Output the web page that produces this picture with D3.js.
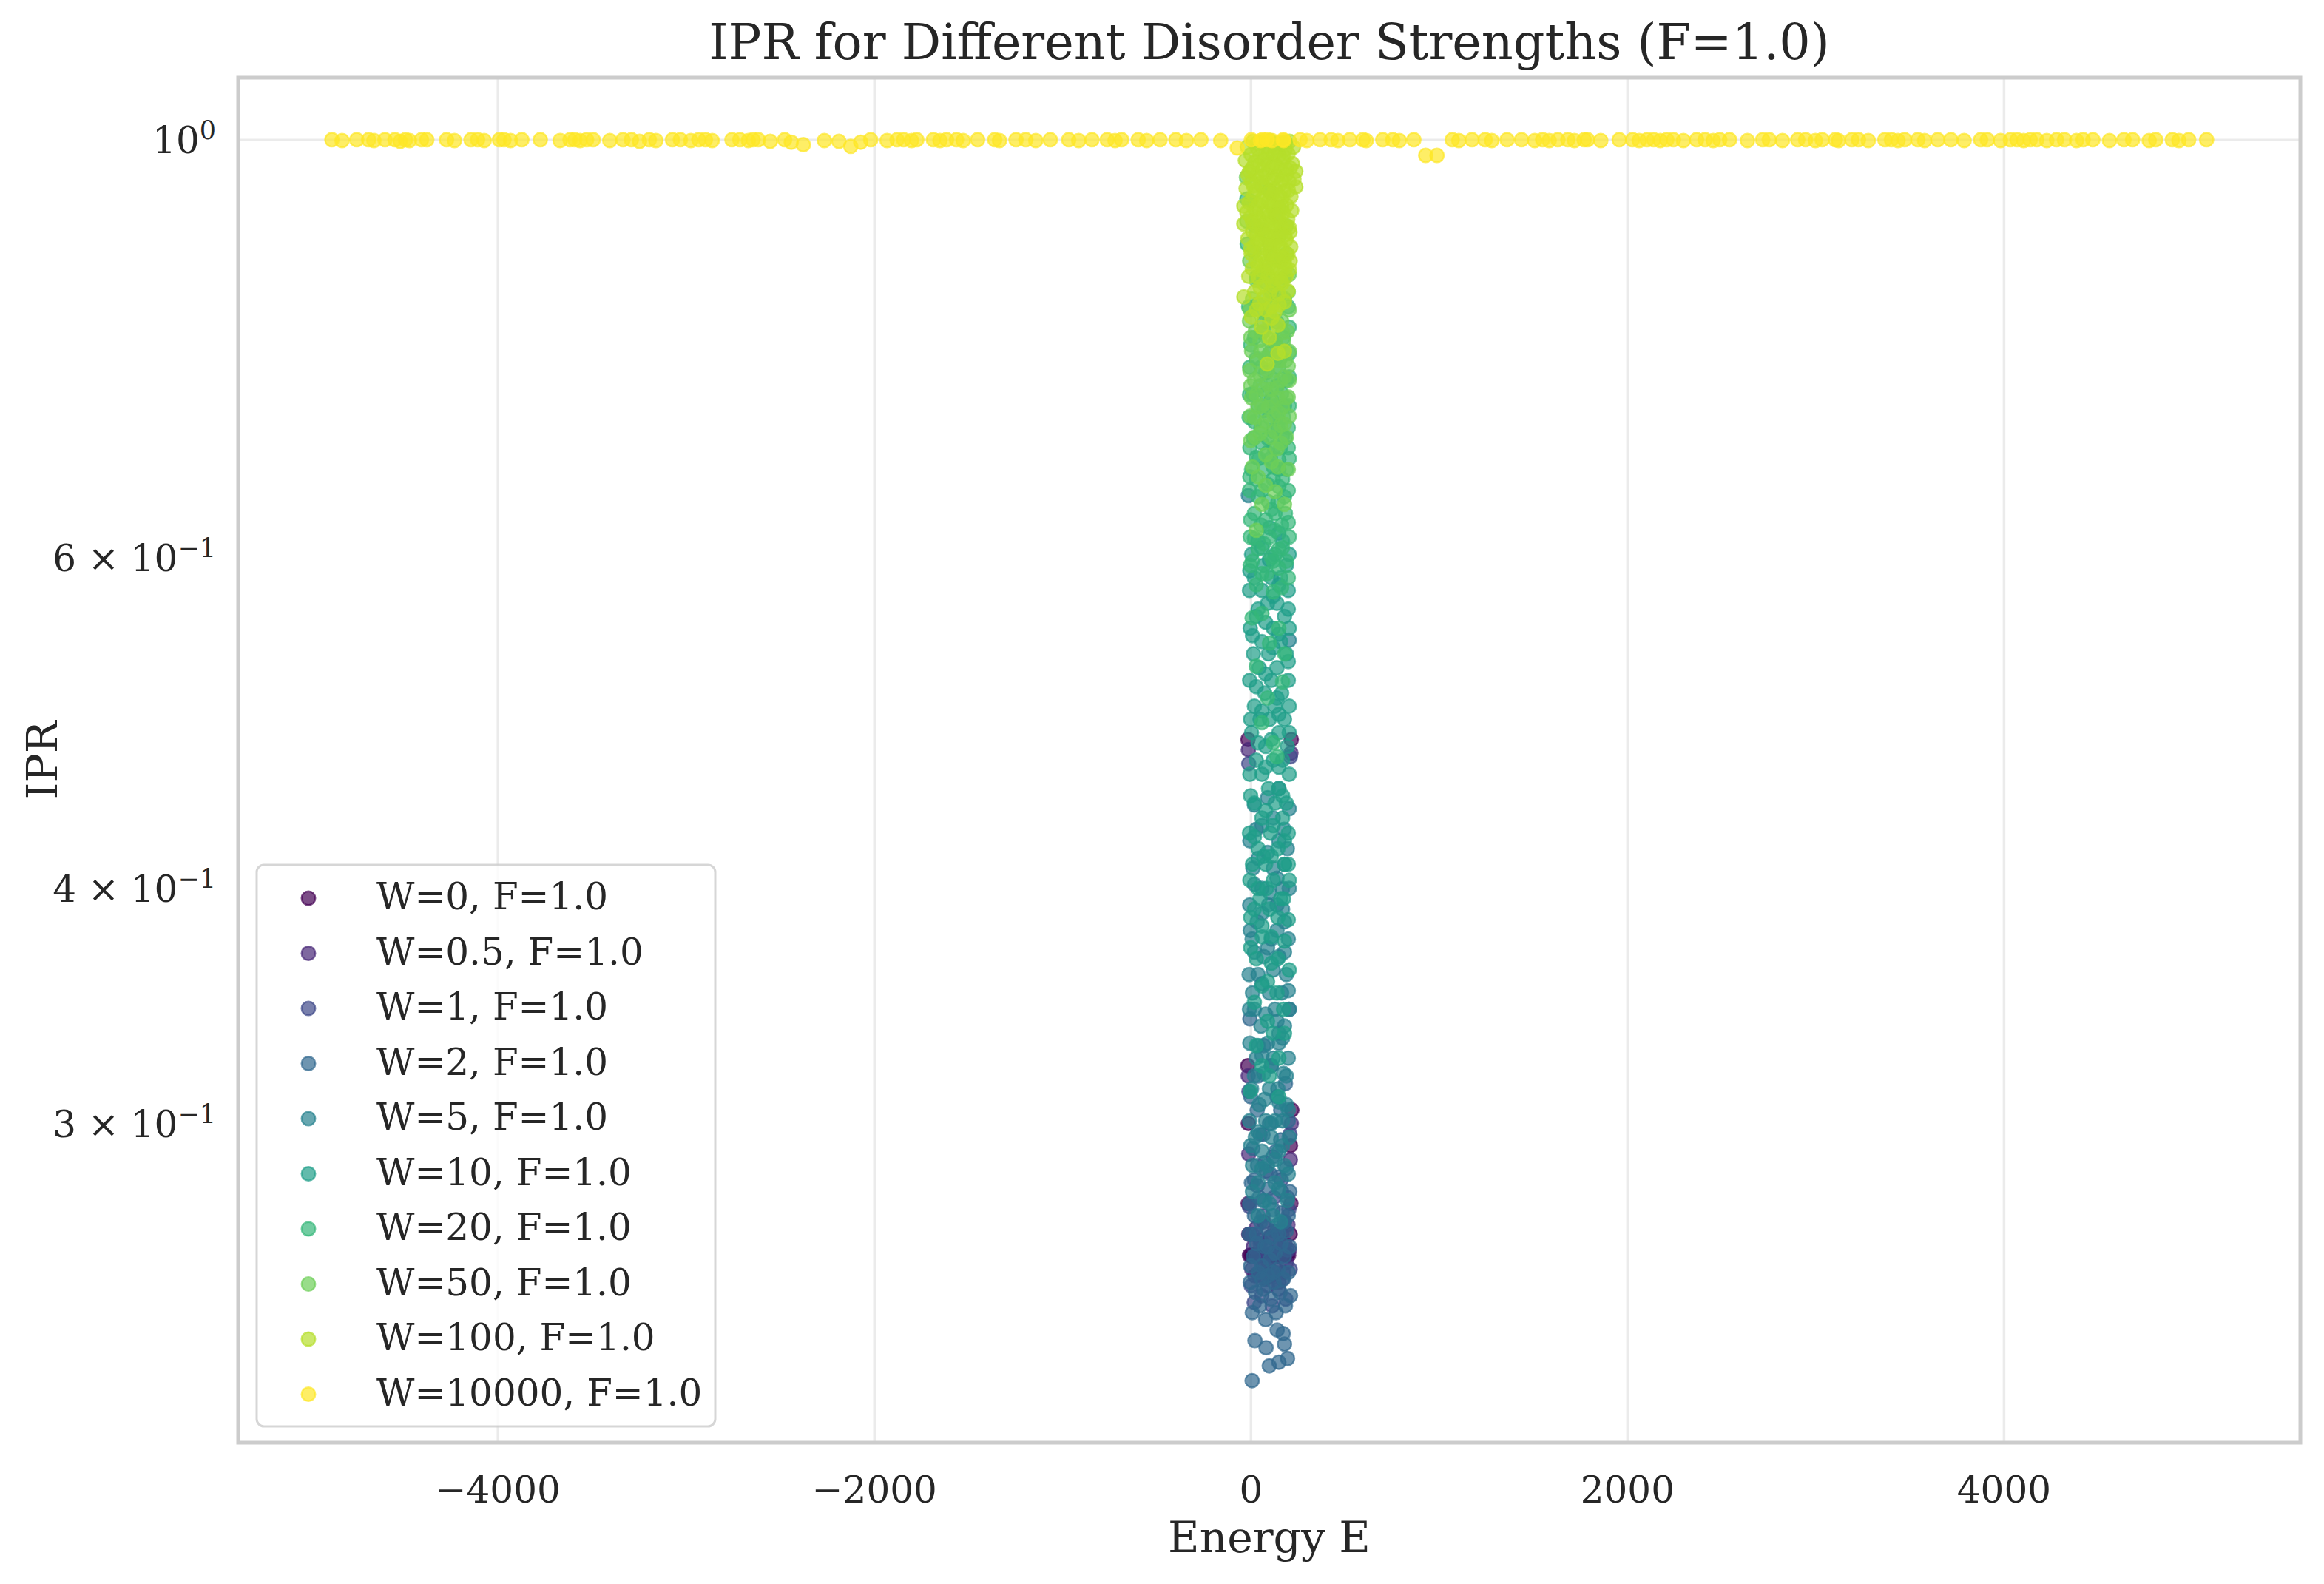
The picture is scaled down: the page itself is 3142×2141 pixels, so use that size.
<!DOCTYPE html>
<html>
<head>
<meta charset="utf-8">
<script src="https://cdn.jsdelivr.net/npm/d3@7"></script>
<style>
  body { margin: 0; background: #fff; }
  text { font-family: "DejaVu Serif", serif; fill: #262626; }
</style>
</head>
<body>
<div id="chart"></div>
<script>
// disorder strengths, one series per W (F fixed at 1.0)
const W_LEVELS = ["0", "0.5", "1", "2", "5", "10", "20", "50", "100", "10000"]

// [energy E, IPR]
const W0 = [
  [-6,0.2553],[2,0.2553],[10,0.2553],[18,0.2553],[26,0.2553],[34,0.2553],[42,0.2553],[50,0.2553],[58,0.2553],
  [66,0.2553],[74,0.2553],[82,0.2553],[90,0.2553],[98,0.2553],[106,0.2553],[114,0.2553],[122,0.2553],[130,0.2553],
  [138,0.2553],[146,0.2553],[154,0.2553],[162,0.2553],[170,0.2553],[178,0.2553],[186,0.2553],[194,0.2553],[202,0.2553],
  [-14,0.480],[216,0.480],[-15,0.322],[-12,0.300],[212,0.292],[219,0.305],[214,0.272],[-13,0.272],[-10,0.262],[210,0.262]
]
const W05 = [
  [-4,0.262],[6,0.251],[14,0.258],[22,0.249],[30,0.264],[38,0.255],[46,0.250],[54,0.260],[62,0.253],[70,0.266],
  [78,0.248],[86,0.257],[94,0.252],[102,0.261],[110,0.249],[118,0.256],[126,0.263],[134,0.251],[142,0.258],[150,0.247],
  [158,0.255],[166,0.262],[174,0.250],[182,0.259],[190,0.253],[198,0.265],[206,0.257],
  [-12,0.474],[214,0.472],[-10,0.289],[211,0.287],[-13,0.318],[216,0.300]
]
const W1 = [
  [-6,0.271],[3,0.246],[11,0.262],[19,0.241],[27,0.255],[35,0.278],[43,0.249],[51,0.259],[59,0.243],[67,0.268],
  [75,0.252],[83,0.283],[91,0.246],[99,0.261],[107,0.256],[115,0.240],[123,0.274],[131,0.250],[139,0.263],[147,0.245],
  [155,0.258],[163,0.280],[171,0.248],[179,0.266],[187,0.242],[195,0.257],[203,0.270],[210,0.251],
  [-10,0.466],[211,0.470],[-9,0.312],[209,0.296]
]
const W2 = [
  [-8,0.262],[-2,0.247],[4,0.279],[9,0.238],[15,0.255],[20,0.268],[26,0.244],[31,0.259],[37,0.285],[42,0.250],
  [48,0.240],[53,0.266],[58,0.252],[64,0.273],[69,0.245],[75,0.258],[80,0.236],[86,0.264],[91,0.249],[97,0.277],
  [102,0.254],[108,0.242],[113,0.261],[119,0.270],[124,0.247],[130,0.256],[135,0.238],[141,0.265],[146,0.251],[152,0.281],
  [157,0.244],[163,0.259],[168,0.269],[174,0.248],[179,0.255],[185,0.240],[190,0.263],[196,0.274],[201,0.250],[207,0.258],
  [212,0.243],[-5,0.272],[208,0.276],[12,0.291],[66,0.296],[118,0.288],[160,0.294],[200,0.301],[35,0.305],[140,0.310],
  [-4,0.341],[205,0.345],
  [30,0.262],[90,0.258],[150,0.262],[60,0.248],[120,0.250],[180,0.266],[0,0.252],[200,0.268],[45,0.274],[105,0.282],
  [165,0.276],[20,0.280],[75,0.286],[135,0.290],[190,0.284],[50,0.296],[100,0.300],[160,0.305],[0,0.310],[110,0.322],
  [185,0.315],[40,0.318],[70,0.330],[150,0.335],
  [8,0.219],[23,0.230],[82,0.228],[99,0.223],[150,0.224],[196,0.225],[141,0.233],[173,0.232],[180,0.229]
]
const W5 = [
  [150,0.452],[205,0.441],[178,0.430],[30,0.430],[195,0.420],[12,0.410],[120,0.410],[60,0.400],[170,0.400],[205,0.400],
  [-5,0.392],[95,0.392],[140,0.392],[35,0.384],[180,0.384],[8,0.376],[110,0.376],[200,0.376],[70,0.368],[150,0.368],
  [-8,0.360],[40,0.360],[190,0.360],[100,0.352],[165,0.352],[205,0.345],[20,0.345],[130,0.345],[55,0.338],[180,0.338],
  [-4,0.331],[90,0.331],[150,0.331],[30,0.325],[120,0.325],[200,0.325],[70,0.319],[175,0.319],[5,0.313],[100,0.313],
  [145,0.313],[45,0.307],[190,0.307],[-6,0.301],[80,0.301],[130,0.301],[170,0.301],[25,0.295],[110,0.295],[205,0.295],
  [60,0.290],[150,0.290],[10,0.285],[90,0.285],[180,0.285],[40,0.279],[130,0.279],[75,0.273],[195,0.273],[120,0.268],
  [90,0.447],[20,0.443],[120,0.436],[60,0.432],[-4,0.424],[150,0.424],[90,0.418],[40,0.415],[180,0.412],[140,0.405],
  [20,0.402],[100,0.398],[60,0.388],[170,0.390],[140,0.380],[-2,0.380],[90,0.372],[20,0.370],[180,0.370],[120,0.362],
  [60,0.356],[10,0.352],[200,0.353],[140,0.340],[80,0.343],[-6,0.345],[170,0.333],[40,0.330],[60,0.326],[110,0.322],
  [190,0.318],[20,0.318],[150,0.308],[75,0.309],[200,0.305],[110,0.300],[40,0.297],[170,0.292],[0,0.292],[130,0.287],
  [60,0.284],[200,0.282],[150,0.277],[10,0.276],[100,0.272],[40,0.268],[160,0.266],
  [205,0.542],[-12,0.647]
]
const W10 = [
  [100,0.622],[40,0.612],[170,0.612],[5,0.602],[130,0.602],[205,0.602],[70,0.594],[190,0.594],[20,0.585],[110,0.585],
  [160,0.585],[-6,0.576],[60,0.576],[200,0.576],[90,0.567],[140,0.567],[30,0.558],[180,0.558],[-2,0.550],[120,0.550],
  [205,0.550],[60,0.541],[160,0.541],[15,0.533],[95,0.533],[190,0.533],[45,0.524],[140,0.524],[-5,0.516],[110,0.516],
  [200,0.516],[75,0.508],[165,0.508],[20,0.500],[130,0.500],[205,0.500],[50,0.492],[100,0.492],[180,0.492],[5,0.484],
  [150,0.484],[80,0.476],[195,0.476],[30,0.468],[120,0.468],[170,0.468],[-4,0.460],[60,0.460],[205,0.460],[95,0.452],
  [150,0.452],[20,0.444],[130,0.444],[190,0.444],[60,0.436],[170,0.436],[-6,0.428],[105,0.428],[200,0.428],[40,0.420],
  [145,0.420],[10,0.412],[80,0.412],[180,0.412],[120,0.404],[205,0.404],[50,0.395],[160,0.395],[0,0.386],[145,0.386],
  [62,0.377],[110,0.377],[145,0.367],[30,0.367],[90,0.357],[175,0.345],[120,0.335],[60,0.322],[150,0.310],
  [150,0.618],[60,0.607],[100,0.598],[-4,0.590],[150,0.580],[120,0.572],[40,0.563],[200,0.563],[80,0.554],[150,0.546],
  [10,0.545],[120,0.537],[200,0.528],[80,0.520],[30,0.512],[140,0.505],[60,0.497],[150,0.495],[0,0.492],[110,0.480],
  [40,0.478],[205,0.484],[80,0.464],[150,0.464],[0,0.448],[170,0.448],[80,0.440],[120,0.432],[20,0.426],[180,0.424],
  [70,0.416],[110,0.416],[200,0.412],[-4,0.404],[40,0.400],[85,0.400],[175,0.395],[20,0.390],[100,0.390],[200,0.385],
  [60,0.382],[180,0.375],[0,0.372],[110,0.365],[205,0.362],[60,0.355],[140,0.352],[20,0.348],[90,0.340],[180,0.335],
  [30,0.330],[150,0.325],[100,0.318],[-2,0.312]
]
const W20 = [
  [30,0.845],[180,0.845],[110,0.830],[-10,0.815],[200,0.815],[70,0.800],[140,0.800],[20,0.785],[175,0.785],[100,0.770],
  [205,0.770],[-5,0.757],[55,0.757],[150,0.757],[120,0.745],[190,0.745],[10,0.733],[80,0.733],[165,0.733],[40,0.722],
  [130,0.722],[205,0.722],[-8,0.712],[100,0.712],[175,0.712],[55,0.703],[145,0.703],[200,0.703],[15,0.694],[90,0.694],
  [185,0.694],[-4,0.686],[125,0.686],[160,0.686],[45,0.677],[105,0.677],[205,0.677],[5,0.668],[75,0.668],[150,0.668],
  [190,0.668],[30,0.660],[120,0.660],[170,0.660],[-6,0.651],[60,0.651],[200,0.651],[95,0.642],[145,0.642],[20,0.633],
  [130,0.633],[185,0.633],[55,0.624],[165,0.624],[-2,0.615],[100,0.615],[205,0.615],[40,0.606],[150,0.606],[10,0.597],
  [120,0.597],[190,0.597],[87,0.588],[60,0.588],[165,0.578],[8,0.557],[181,0.533],[90,0.505],[140,0.470],
  [80,0.840],[150,0.826],[40,0.818],[100,0.808],[205,0.795],[60,0.790],[130,0.780],[0,0.778],[160,0.766],[30,0.765],
  [80,0.752],[205,0.748],[140,0.740],[50,0.740],[-6,0.732],[110,0.728],[180,0.722],[70,0.718],[140,0.712],[20,0.708],
  [120,0.700],[170,0.696],[60,0.690],[200,0.686],[90,0.682],[30,0.678],[150,0.676],[120,0.670],[-4,0.662],[90,0.656],
  [150,0.654],[40,0.646],[180,0.646],[110,0.636],[0,0.628],[80,0.628],[200,0.626],[130,0.620],[20,0.614],[70,0.610],
  [170,0.607],[110,0.600],[-2,0.594],[150,0.592],[30,0.580],[120,0.575],[200,0.585],[60,0.560],[150,0.550],[100,0.540],
  [30,0.525],[170,0.515],[60,0.490],[120,0.478],
  [-20,0.930],[-18,0.880]
]
const W50 = [
  [60,0.945],[150,0.920],[20,0.900],[190,0.900],[100,0.880],[-5,0.862],[160,0.862],[60,0.848],[205,0.848],[120,0.835],
  [10,0.823],[80,0.823],[180,0.823],[40,0.812],[140,0.812],[205,0.812],[-6,0.801],[100,0.801],[165,0.801],[25,0.791],
  [70,0.791],[195,0.791],[130,0.781],[175,0.781],[5,0.772],[55,0.772],[110,0.772],[205,0.772],[35,0.763],[150,0.763],
  [185,0.763],[-4,0.754],[90,0.754],[125,0.754],[20,0.745],[160,0.745],[205,0.745],[65,0.737],[110,0.737],[5,0.729],
  [145,0.729],[190,0.729],[40,0.721],[95,0.721],[170,0.721],[-2,0.713],[125,0.713],[205,0.713],[60,0.705],[160,0.705],
  [25,0.695],[105,0.695],[190,0.695],[140,0.685],[145,0.670],[10,0.670],[80,0.655],[180,0.640],[30,0.620],
  [100,0.940],[0,0.928],[130,0.912],[60,0.896],[150,0.888],[20,0.872],[110,0.866],[190,0.870],[80,0.852],[30,0.842],
  [150,0.840],[200,0.830],[110,0.820],[60,0.810],[-4,0.812],[130,0.795],[170,0.790],[50,0.782],[90,0.784],[0,0.785],
  [150,0.774],[80,0.766],[200,0.758],[120,0.764],[50,0.750],[180,0.748],[0,0.740],[90,0.742],[140,0.738],[30,0.732],
  [110,0.726],[200,0.730],[60,0.722],[150,0.716],[20,0.712],[80,0.708],[180,0.706],[130,0.700],[50,0.698],[0,0.692],
  [160,0.690],[80,0.680],[110,0.674],[40,0.662],[200,0.668],[130,0.650],[60,0.640],
  [-22,0.955],[-20,0.905]
]
const W100 = [
  [12,0.998],[58,0.997],[104,0.999],[163,0.996],[207,0.998],[-18,0.991],[37,0.989],[88,0.992],[131,0.990],[183,0.988],
  [228,0.991],[2,0.982],[49,0.980],[97,0.984],[152,0.981],[199,0.983],[-28,0.975],[23,0.973],[73,0.976],[122,0.972],
  [171,0.975],[223,0.971],[9,0.966],[63,0.964],[113,0.967],[158,0.963],[211,0.966],[240,0.962],[-14,0.958],[33,0.957],
  [82,0.959],[138,0.956],[188,0.958],[6,0.950],[52,0.948],[107,0.951],[156,0.947],[204,0.950],[240,0.944],[-24,0.942],
  [28,0.940],[79,0.943],[128,0.941],[178,0.939],[17,0.934],[66,0.932],[116,0.935],[167,0.931],[214,0.933],[-8,0.926],
  [42,0.924],[92,0.927],[141,0.925],[191,0.923],[-36,0.922],[22,0.918],[71,0.916],[118,0.919],[172,0.915],[218,0.917],
  [1,0.910],[47,0.908],[99,0.911],[148,0.909],[197,0.907],[-36,0.902],[31,0.900],[83,0.903],[129,0.899],[181,0.901],
  [11,0.894],[61,0.892],[109,0.895],[161,0.891],[209,0.893],[-15,0.886],[39,0.884],[91,0.887],[139,0.883],[189,0.885],
  [19,0.878],[69,0.876],[121,0.879],[169,0.875],[213,0.877],[3,0.870],[51,0.868],[102,0.871],[149,0.867],[198,0.869],
  [28,0.862],[81,0.860],[132,0.863],[179,0.861],[9,0.854],[62,0.852],[111,0.855],[158,0.851],[206,0.853],[-10,0.846],
  [41,0.845],[93,0.847],[142,0.844],[188,0.846],[72,0.838],[119,0.836],[168,0.839],[21,0.830],[101,0.829],[199,0.831],
  [-36,0.825],[48,0.818],[151,0.817],[82,0.812],[128,0.810],[4,0.805],[112,0.804],[145,0.797],[58,0.795],[100,0.785],
  [180,0.772],[145,0.770],[88,0.760],
  [35,0.996],[135,0.995],[185,0.997],[80,0.985],[125,0.983],[175,0.979],[45,0.969],[95,0.970],[140,0.968],[190,0.965],
  [-5,0.962],[60,0.955],[120,0.953],[170,0.952],[230,0.953],[15,0.945],[100,0.938],[150,0.935],[200,0.940],[60,0.928],
  [110,0.923],[165,0.921],[30,0.914],[90,0.913],[140,0.912],[-20,0.915],[10,0.905],[60,0.899],[110,0.902],[160,0.900],
  [205,0.898],[30,0.890],[80,0.890],[130,0.888],[180,0.890],[50,0.882],[100,0.880],[150,0.878],[0,0.875],[75,0.866],
  [125,0.865],[170,0.866],[210,0.862],[40,0.857],[90,0.856],[135,0.851],[185,0.855],[110,0.842],[160,0.842],[50,0.835],
  [150,0.828],[70,0.824],[180,0.820],[110,0.815],[30,0.812]
]
const W10000 = [
  [-4880,1.0],[-4826,0.999],[-4748,1.0],[-4685,1.0],[-4657,0.999],[-4598,1.0],[-4545,1.0],[-4517,0.998],[-4489,1.0],
  [-4468,0.999],[-4404,1.0],[-4376,1.0],[-4271,1.0],[-4229,0.999],[-4141,1.0],[-4106,1.0],[-4071,0.999],[-3990,1.0],
  [-3966,1.0],[-3931,0.999],[-3871,1.0],[-3773,1.0],[-3668,0.999],[-3615,1.0],[-3590,1.0],[-3562,0.999],[-3527,1.0],
  [-3492,1.0],[-3404,0.999],[-3334,1.0],[-3289,1.0],[-3246,0.998],[-3194,1.0],[-3159,0.999],[-3071,1.0],[-3029,1.0],
  [-2973,0.999],[-2931,1.0],[-2896,1.0],[-2860,0.999],[-2755,1.0],[-2713,1.0],[-2668,0.999],[-2643,1.0],[-2615,1.0],
  [-2552,0.998],[-2475,1.0],[-2440,0.997],[-2376,0.994],[-2264,0.999],[-2187,0.998],[-2124,0.992],[-2071,0.997],
  [-2018,1.0],[-1931,0.999],[-1878,1.0],[-1843,1.0],[-1801,0.999],[-1773,1.0],[-1685,1.0],[-1650,0.999],[-1615,1.0],
  [-1562,1.0],[-1527,0.999],[-1450,1.0],[-1359,1.0],[-1334,0.999],[-1246,1.0],[-1194,1.0],[-1141,0.999],[-1064,1.0],
  [-966,1.0],[-913,0.999],[-843,1.0],[-762,1.0],[-720,0.999],[-685,1.0],[-597,1.0],[-552,0.999],[-481,1.0],[-397,1.0],
  [-341,0.999],[-264,1.0],[-159,0.999],[-71,0.990],
  [4,1.0],[53,0.999],[63,1.0],[88,1.0],[114,0.999],[173,1.0],[176,0.999],[263,1.0],[299,0.999],[369,1.0],[428,1.0],
  [464,0.999],[527,1.0],[597,1.0],[614,0.999],[702,1.0],[755,1.0],[790,0.999],[867,1.0],[930,0.981],[990,0.981],
  [1071,1.0],[1106,0.999],[1176,1.0],[1246,1.0],[1281,0.999],[1362,1.0],[1439,1.0],[1509,0.999],[1551,1.0],[1586,0.999],
  [1632,1.0],[1685,1.0],[1720,0.999],[1772,1.0],[1790,1.0],[1860,0.999],[1958,1.0],[2029,1.0],[2064,0.999],[2106,1.0],
  [2141,1.0],[2176,0.999],[2211,1.0],[2246,1.0],[2299,0.999],[2369,1.0],[2414,1.0],[2457,0.999],[2492,1.0],[2544,1.0],
  [2639,0.999],[2720,1.0],[2755,1.0],[2825,0.999],[2906,1.0],[2948,1.0],[3000,0.999],[3036,1.0],[3106,1.0],[3123,0.999],
  [3194,1.0],[3229,1.0],[3281,0.999],[3369,1.0],[3404,1.0],[3439,0.999],[3474,1.0],[3544,1.0],[3580,0.999],[3650,1.0],
  [3720,1.0],[3790,0.999],[3878,1.0],[3913,1.0],[3983,0.999],[4036,1.0],[4071,1.0],[4106,0.999],[4141,1.0],[4176,1.0],
  [4229,0.999],[4281,1.0],[4323,1.0],[4387,0.999],[4422,1.0],[4474,1.0],[4562,0.999],[4639,1.0],[4685,1.0],[4773,0.999],
  [4808,1.0],[4896,1.0],[4931,0.999],[4983,1.0],[5078,1.0]
]

const SERIES = [W0, W05, W1, W2, W5, W10, W20, W50, W100, W10000]

const X_TICKS = [-4000, -2000, 0, 2000, 4000]
const Y_TICKS = [0.3, 0.4, 0.6, 1]
const Y_TICK_MANT = ["3", "4", "6", ""]
const Y_TICK_EXP = ["\u22121", "\u22121", "\u22121", "0"]

const TOTAL_W = 3142
const TOTAL_H = 2141
const MARGIN = {TOP: 105, BOTTOM: 191, LEFT: 322, RIGHT: 32}
const WIDTH = TOTAL_W - MARGIN.LEFT - MARGIN.RIGHT
const HEIGHT = TOTAL_H - MARGIN.TOP - MARGIN.BOTTOM

const svg = d3.select("#chart")
  .append("svg")
    .attr("width", TOTAL_W)
    .attr("height", TOTAL_H)

const g = svg.append("g")
  .attr("transform", `translate(${MARGIN.LEFT}, ${MARGIN.TOP})`)

// scales with matplotlib-like 5% padding
const all = SERIES.flat()
const [xMin, xMax] = d3.extent(all, d => d[0])
const xPad = (xMax - xMin) * 0.05
const x = d3.scaleLinear()
  .domain([xMin - xPad, xMax + xPad])
  .range([0, WIDTH])

const [lyMin, lyMax] = d3.extent(all, d => Math.log10(d[1]))
const lyPad = (lyMax - lyMin) * 0.05
const y = d3.scaleLog()
  .domain([Math.pow(10, lyMin - lyPad), Math.pow(10, lyMax + lyPad)])
  .range([HEIGHT, 0])

const color = i => d3.interpolateViridis(i / (W_LEVELS.length - 1))

// grid
const gridX = g.append("g")
  .call(d3.axisBottom(x).tickValues(X_TICKS).tickSize(HEIGHT).tickFormat(""))
gridX.select(".domain").remove()
gridX.selectAll("line").attr("stroke", "#ebebeb").attr("stroke-width", 3.5)

const gridY = g.append("g")
  .call(d3.axisLeft(y).tickValues([1]).tickSize(-WIDTH).tickFormat(""))
gridY.select(".domain").remove()
gridY.selectAll("line").attr("stroke", "#ebebeb").attr("stroke-width", 3.5)

// points
SERIES.forEach((series, i) => {
  g.append("g")
    .selectAll("circle")
    .data(series)
    .join("circle")
      .attr("cx", d => x(d[0]))
      .attr("cy", d => y(d[1]))
      .attr("r", 9.3)
      .attr("fill", color(i))
      .attr("fill-opacity", 0.7)
      .attr("stroke", color(i))
      .attr("stroke-opacity", 0.7)
      .attr("stroke-width", 2.4)
})

// frame
g.append("rect")
  .attr("width", WIDTH)
  .attr("height", HEIGHT)
  .attr("fill", "none")
  .attr("stroke", "#cccccc")
  .attr("stroke-width", 5)

// x axis
const xAxisGroup = g.append("g")
  .attr("transform", `translate(0, ${HEIGHT})`)
  .call(d3.axisBottom(x).tickValues(X_TICKS).tickSize(0).tickPadding(45).tickFormat(d3.format("d")))
xAxisGroup.select(".domain").remove()
xAxisGroup.selectAll("text")
  .attr("font-size", "50px")
  .attr("font-family", "DejaVu Serif")
  .attr("fill", "#262626")

// y axis with mathtext-like labels
const yAxisGroup = g.append("g")
  .call(d3.axisLeft(y).tickValues(Y_TICKS).tickSize(0).tickPadding(30).tickFormat(""))
yAxisGroup.select(".domain").remove()
yAxisGroup.selectAll("text")
  .attr("font-size", "50px")
  .attr("font-family", "DejaVu Serif")
  .attr("fill", "#262626")
  .attr("dy", "0.36em")
  .each(function(d, i) {
    const t = d3.select(this)
    t.append("tspan").text(Y_TICK_MANT[i] ? `${Y_TICK_MANT[i]} \u00d7 10` : "10")
    t.append("tspan")
      .attr("font-size", "35px")
      .attr("dy", "-19")
      .text(Y_TICK_EXP[i])
  })

// labels
svg.append("text")
  .attr("x", MARGIN.LEFT + WIDTH / 2)
  .attr("y", 80)
  .attr("text-anchor", "middle")
  .attr("font-size", "66.7px")
  .text("IPR for Different Disorder Strengths (F=1.0)")

svg.append("text")
  .attr("x", MARGIN.LEFT + WIDTH / 2)
  .attr("y", 2098)
  .attr("text-anchor", "middle")
  .attr("font-size", "58.3px")
  .text("Energy E")

svg.append("text")
  .attr("transform", `translate(77, ${MARGIN.TOP + HEIGHT / 2}) rotate(-90)`)
  .attr("text-anchor", "middle")
  .attr("font-size", "58.3px")
  .text("IPR")

// legend
const legend = svg.append("g")
  .attr("transform", "translate(347, 1169)")

legend.append("rect")
  .attr("width", 620)
  .attr("height", 759)
  .attr("rx", 10)
  .attr("fill", "#fff")
  .attr("fill-opacity", 0.8)
  .attr("stroke", "#cccccc")
  .attr("stroke-opacity", 0.8)
  .attr("stroke-width", 3)

const rows = legend.selectAll("g.row")
  .data(W_LEVELS)
  .join("g")
    .attr("class", "row")
    .attr("transform", (d, i) => `translate(0, ${45 + i * 74.5})`)

rows.append("circle")
  .attr("cx", 70)
  .attr("r", 9.3)
  .attr("fill", (d, i) => color(i))
  .attr("fill-opacity", 0.7)
  .attr("stroke", (d, i) => color(i))
  .attr("stroke-opacity", 0.7)
  .attr("stroke-width", 2.4)

rows.append("text")
  .attr("x", 162)
  .attr("dy", "0.3em")
  .attr("font-size", "50px")
  .text(d => `W=${d}, F=1.0`)
</script>
</body>
</html>
